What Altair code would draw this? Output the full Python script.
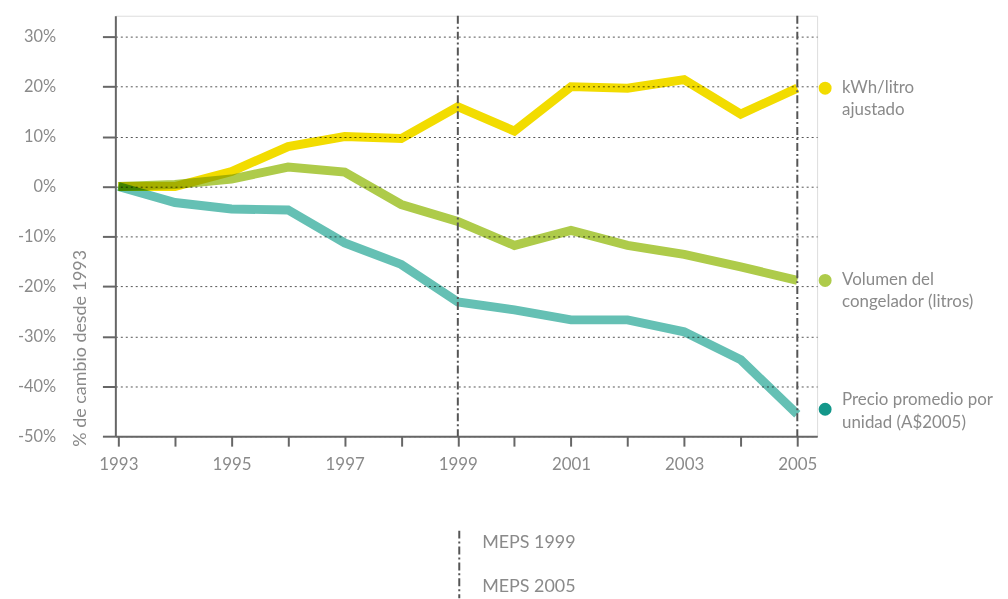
import altair as alt
import pandas as pd

# ---- data ----
years = list(range(1993, 2006))
kwh_litro = [0, 0, 3, 8, 10, 9.6, 16, 11.1, 20, 19.7, 21.4, 14.5, 19.7]
volumen = [0, 0.4, 1.5, 3.9, 2.9, -3.6, -7.0, -11.8, -8.8, -11.8, -13.6, -16.1, -18.8]
precio = [0, -3.2, -4.5, -4.7, -11.3, -15.6, -23.1, -24.7, -26.7, -26.7, -29.1, -34.7, -45.6]

series_names = ["kWh/litro ajustado", "Volumen del congelador (litros)",
                "Precio promedio por unidad (A$2005)"]
legend_text = [["kWh/litro", "ajustado"], ["Volumen del", "congelador (litros)"],
               ["Precio promedio por", "unidad (A$2005)"]]
line_colors = ["#f2dc00", "#aecb4a", "#65c0b4"]
dot_colors = ["#f2dc00", "#aecb4a", "#13978a"]

y_ticks = [30, 20, 10, 0, -10, -20, -30, -40, -50]
meps_years = [1999, 2005]
meps_labels = ["MEPS 1999", "MEPS 2005"]

FONT = "Lato"
GREY = "#8a8a8a"
AXIS = "#666666"

rows = []
for name, vals in zip(series_names, [kwh_litro, volumen, precio]):
    for yr, v in zip(years, vals):
        rows.append({"serie": name, "anio": yr, "valor": v})
df = pd.DataFrame(rows)

leg = pd.DataFrame({
    "serie_punto": series_names,
    "anio": [years[-1]] * 3,
    "valor": [kwh_litro[-1], volumen[-1], precio[-1]],
    "texto": legend_text,
    "grupo": ["top", "top", "center"],
})
meps_df = pd.DataFrame({"anio": meps_years})

x_scale = alt.Scale(domain=[1992.947, 2005.35], nice=False, zero=False)
y_scale = alt.Scale(domain=[-50, 34.2], nice=False, zero=False)

x_axis = alt.Axis(values=years, labelExpr="datum.value % 2 == 1 ? '' + datum.value : ''",
                  grid=False, domainColor=AXIS, domainWidth=2, tickColor=AXIS, tickWidth=2,
                  tickSize=10, labelPadding=11, labelFontSize=17, labelColor=GREY,
                  labelFont=FONT, title=None)
y_axis = alt.Axis(values=y_ticks, labelExpr="datum.value + '%'", grid=True,
                  gridDash=[2, 3], gridColor="#555555", gridWidth=1,
                  domainColor=AXIS, domainWidth=2, tickColor=AXIS, tickWidth=2, tickSize=13,
                  labelPadding=47, labelFontSize=16.5, labelColor=GREY, labelFont=FONT,
                  title="% de cambio desde 1993", titleFont=FONT, titleFontSize=18,
                  titleFontWeight="normal", titleColor=GREY, titleAngle=270,
                  titleAlign="left", titleBaseline="middle", titleX=-35, titleY=433)

color_scale = alt.Scale(domain=series_names, range=line_colors)
dot_scale = alt.Scale(domain=series_names, range=dot_colors)

lines = alt.Chart(df).mark_line(strokeWidth=9, strokeCap="butt", blend="multiply").encode(
    x=alt.X("anio:Q", scale=x_scale, axis=x_axis),
    y=alt.Y("valor:Q", scale=y_scale, axis=y_axis),
    color=alt.Color("serie:N", scale=color_scale, legend=None),
)

meps_rules = alt.Chart(meps_df).mark_rule(color="#555555", strokeWidth=2,
                                          strokeDash=[8, 3, 2, 3]).encode(
    x=alt.X("anio:Q", scale=x_scale),
)

dots_top = alt.Chart(leg).transform_filter("datum.grupo == 'top'").mark_circle(
    size=170, opacity=1, xOffset=28).encode(
    x=alt.X("anio:Q", scale=x_scale), y=alt.Y("valor:Q", scale=y_scale),
    fill=alt.Fill("serie_punto:N", scale=dot_scale, legend=None))
dots_center = alt.Chart(leg).transform_filter("datum.grupo == 'center'").mark_circle(
    size=170, opacity=1, xOffset=28, yOffset=-5).encode(
    x=alt.X("anio:Q", scale=x_scale), y=alt.Y("valor:Q", scale=y_scale),
    fill=alt.Fill("serie_punto:N", scale=dot_scale, legend=None))

text_top = alt.Chart(leg).transform_filter("datum.grupo == 'top'").mark_text(
    align="left", baseline="middle", dx=45, dy=0, lineHeight=22, font=FONT,
    fontSize=17, color=GREY).encode(
    x=alt.X("anio:Q", scale=x_scale), y=alt.Y("valor:Q", scale=y_scale), text="texto")
text_center = alt.Chart(leg).transform_filter("datum.grupo == 'center'").mark_text(
    align="left", baseline="middle", dx=45, dy=-14, lineHeight=23, font=FONT,
    fontSize=17, color=GREY).encode(
    x=alt.X("anio:Q", scale=x_scale), y=alt.Y("valor:Q", scale=y_scale), text="texto")

# bottom key for the MEPS lines
key_rule = alt.Chart(meps_df).transform_filter("datum.anio == 1999").mark_rule(
    color="#555555", strokeWidth=2, strokeDash=[8, 3, 2, 3]).encode(
    x=alt.value(346), y=alt.value(518), y2=alt.value(586))
key_texts = []
for lbl, ypx in zip(meps_labels, [530, 575]):
    key_texts.append(
        alt.Chart(meps_df).transform_filter("datum.anio == 1999").mark_text(
            align="left", baseline="middle", font=FONT, fontSize=18, color=GREY,
            text=lbl).encode(x=alt.value(369), y=alt.value(ypx)))

chart = alt.layer(lines, meps_rules, dots_top, dots_center, text_top, text_center,
                  key_rule, *key_texts).properties(
    width=706, height=423,
    autosize=alt.AutoSizeParams(type="none"),
    padding={"left": 108, "top": 6, "right": 184, "bottom": 162},
).configure_view(stroke=None).configure(background="white")

chart.save("out.html", embed_options={"renderer": "svg", "actions": False})
